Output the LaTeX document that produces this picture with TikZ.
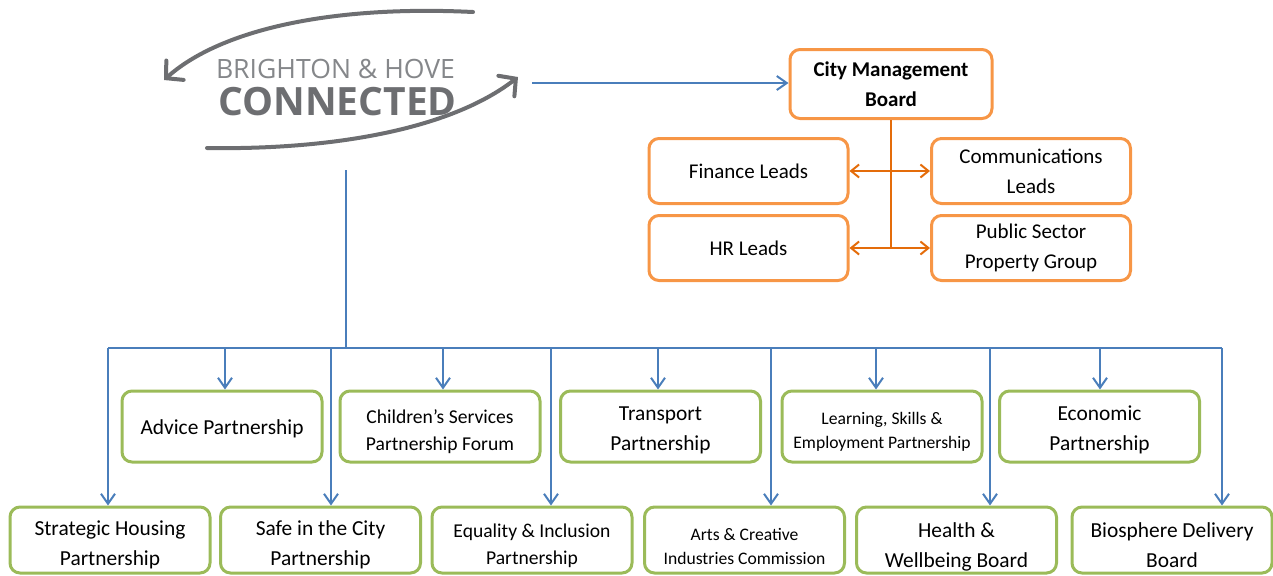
\documentclass[tikz,border=0pt]{standalone}
\usepackage{fontspec}
\setmainfont{Carlito}
\newfontfamily\logofont{Open Sans}
\usetikzlibrary{arrows.meta,positioning}

\definecolor{bhblue}{HTML}{4A7EBB}
\definecolor{bhgreen}{HTML}{9BBB59}
\definecolor{bhorange}{HTML}{F79646}
\definecolor{bhorangeline}{HTML}{E46C0A}
\definecolor{bhgrey}{HTML}{6D6E71}
\definecolor{bhlightgrey}{HTML}{85878A}

% raises the first line so the text sits lower in its box
\newcommand{\firstline}[1][12.5pt]{\rule{0pt}{#1}}

\begin{document}
\begin{tikzpicture}[x=0.5pt,y=-0.5pt]

% Box and line styles
\tikzset{
    board/.style={draw=bhorange,line width=1.5pt,rounded corners=5pt,
        align=center,inner sep=0pt,minimum width=101pt,minimum height=34.5pt,
        font=\fontsize{10.5}{15}\selectfont},
    lead/.style={board,minimum width=99.5pt,minimum height=32.5pt},
    partner/.style={draw=bhgreen,line width=1.5pt,rounded corners=5pt,
        align=center,inner sep=0pt,minimum width=100pt,minimum height=35.5pt,
        font=\fontsize{10.7}{15}\selectfont},
    lower/.style={partner,minimum height=33pt},
    smaller/.style={font=\fontsize{9.8}{13.5}\selectfont},
    smallest/.style={font=\fontsize{8.8}{12}\selectfont},
    feed/.style={draw=bhblue,line width=1pt,-{Straight Barb[length=5pt,width=7pt]}},
    bus/.style={draw=bhblue,line width=1pt},
    link/.style={draw=bhorangeline,line width=1pt,
        {Straight Barb[length=4pt,width=6.5pt]}-{Straight Barb[length=4pt,width=6.5pt]}},
    swoosh/.style={draw=bhgrey,line width=2pt,line cap=round,
        -{Straight Barb[length=6pt,width=13pt,line cap=round]}},
}
\useasboundingbox (0,0) rectangle (1273,575);

% Logo
\node[anchor=base,text=bhlightgrey,inner sep=0pt,
    font=\logofont\fontsize{13.3}{14}\selectfont] (bh) at (335.5,78) {BRIGHTON \& HOVE};
\node[anchor=base,text=bhgrey,inner sep=0pt,
    font=\logofont\bfseries\fontsize{19.5}{20}\selectfont] (conn) at (337.5,115) {CONNECTED};
\draw[swoosh] (473,12) .. controls (330,5) and (220,30) .. (164,80);
\draw[swoosh] (207,148) .. controls (330,150) and (450,130) .. (518,77);
\coordinate (logo-e) at (532,83);
\coordinate (logo-s) at (346,170);

% City Management Board and leads
\node[board] (cmb) at (891,84) {\textbf{City Management}\\\textbf{Board}};
\node[lead] (fin) at (748.5,171) {Finance Leads};
\node[lead] (comm) at (1031,171) {Communications\\Leads};
\node[lead] (hr) at (748.5,248) {HR Leads};
\node[lead] (psg) at (1031,248) {Public Sector\\Property Group};

\draw[feed] (logo-e) -- (cmb.west |- logo-e);
\draw[draw=bhorangeline,line width=1pt] (cmb.south) -- (cmb.south |- hr.east);
\draw[link] (fin.east) -- (comm.west);
\draw[link] (hr.east) -- (psg.west);

% Partnerships, upper row
\node[partner] (advice) at (222,426.5) {\firstline[10pt]Advice Partnership};
\node[partner,smaller] (child) at (440,426.5) {\firstline Children’s Services\\Partnership Forum};
\node[partner] (transport) at (660.5,426.5) {\firstline[10.5pt]Transport\\Partnership};
\node[partner,smallest] (learning) at (882,426.5) {\firstline[11pt]Learning, Skills \&\\Employment Partnership};
\node[partner] (economic) at (1099.5,426.5) {\firstline[11pt]Economic\\Partnership};

% Partnerships, lower row
\node[lower] (housing) at (110,540) {\firstline Strategic Housing\\Partnership};
\node[lower] (safe) at (320.5,540) {\firstline Safe in the City\\Partnership};
\node[lower,smaller] (equality) at (532,540) {\firstline Equality \& Inclusion\\Partnership};
\node[lower,smallest] (arts) at (744.5,540) {\firstline Arts \& Creative\\Industries Commission};
\node[lower] (health) at (956.5,540) {\firstline[14pt]Health \&\\Wellbeing Board};
\node[lower] (biosphere) at (1172,540) {\firstline Biosphere Delivery\\Board};

% Feeder lines
\coordinate (hub) at (346,348);
\draw[bus] (logo-s) -- (hub);
\foreach \x/\n in {108/housing,225/advice,331/safe,443/child,551/equality,
    658/transport,771/arts,876/learning,990/health,1100/economic,1222/biosphere}
{
    \coordinate (d-\n) at (\x,348);
    \draw[feed] (d-\n) -- (d-\n |- \n.north);
}
\draw[bus] (d-housing) -- (d-biosphere);
\end{tikzpicture}
\end{document}
